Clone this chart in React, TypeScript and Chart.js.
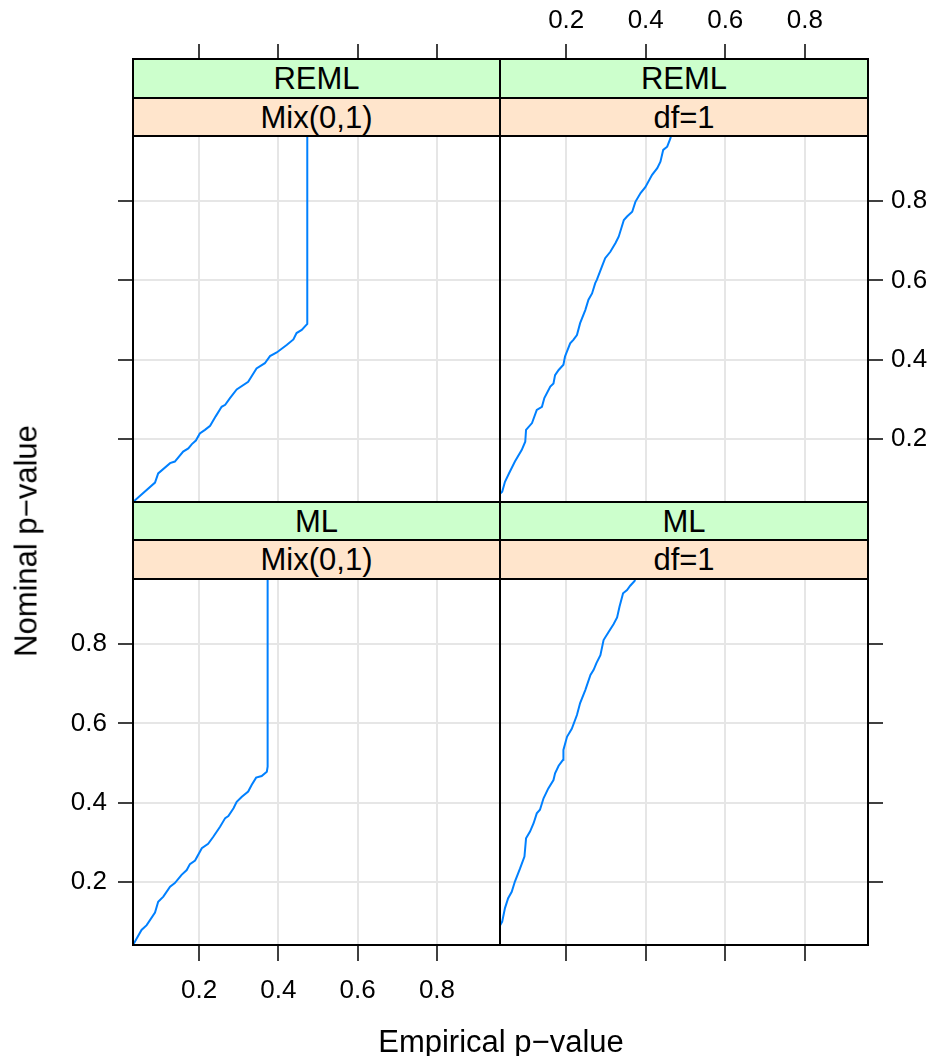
import React, { useEffect, useRef } from "react";
import { Chart, registerables } from "chart.js";

Chart.register(...registerables);

// ---------------- data ----------------
const tickValues = [0.2, 0.4, 0.6, 0.8];
const xRange = [0.0335, 0.959];
const yRange = [0.041, 0.964];

// REML, Mix(0,1)
const remlMixEmpirical = [0.0335, 0.089, 0.097, 0.127, 0.139, 0.16, 0.173, 0.182, 0.192, 0.202, 0.215, 0.228, 0.242, 0.257, 0.266, 0.278, 0.295, 0.324, 0.345, 0.366, 0.379, 0.396, 0.421, 0.438, 0.446, 0.459, 0.473, 0.473];
const remlMixNominal = [0.041, 0.09, 0.113, 0.139, 0.143, 0.168, 0.176, 0.187, 0.196, 0.214, 0.223, 0.233, 0.257, 0.281, 0.286, 0.303, 0.325, 0.344, 0.378, 0.391, 0.409, 0.418, 0.437, 0.451, 0.467, 0.475, 0.49, 1.0];

// REML, df=1
const remlDf1Empirical = [0.0335, 0.039, 0.046, 0.056, 0.071, 0.088, 0.097, 0.099, 0.114, 0.126, 0.139, 0.145, 0.16, 0.168, 0.172, 0.181, 0.193, 0.197, 0.21, 0.218, 0.227, 0.235, 0.248, 0.256, 0.265, 0.273, 0.277, 0.29, 0.298, 0.311, 0.324, 0.332, 0.345, 0.353, 0.366, 0.374, 0.387, 0.399, 0.416, 0.429, 0.437, 0.444, 0.454, 0.462, 0.467];
const remlDf1Nominal = [0.062, 0.067, 0.092, 0.113, 0.143, 0.172, 0.193, 0.223, 0.24, 0.273, 0.281, 0.303, 0.332, 0.34, 0.361, 0.374, 0.387, 0.408, 0.441, 0.45, 0.462, 0.492, 0.525, 0.551, 0.567, 0.593, 0.601, 0.635, 0.656, 0.672, 0.694, 0.71, 0.752, 0.761, 0.773, 0.798, 0.82, 0.835, 0.866, 0.883, 0.899, 0.929, 0.937, 0.958, 0.979];

// ML, Mix(0,1)
const mlMixEmpirical = [0.0335, 0.055, 0.068, 0.089, 0.097, 0.11, 0.127, 0.139, 0.156, 0.169, 0.177, 0.19, 0.207, 0.223, 0.236, 0.253, 0.266, 0.274, 0.287, 0.295, 0.308, 0.324, 0.333, 0.344, 0.358, 0.371, 0.373, 0.373];
const mlMixNominal = [0.041, 0.079, 0.091, 0.123, 0.15, 0.163, 0.188, 0.197, 0.218, 0.23, 0.245, 0.254, 0.285, 0.296, 0.314, 0.339, 0.361, 0.366, 0.386, 0.402, 0.415, 0.428, 0.445, 0.463, 0.467, 0.478, 0.491, 1.0];

// ML, df=1
const mlDf1Empirical = [0.0335, 0.039, 0.046, 0.054, 0.063, 0.071, 0.084, 0.095, 0.099, 0.109, 0.118, 0.126, 0.134, 0.143, 0.155, 0.168, 0.172, 0.181, 0.192, 0.193, 0.202, 0.214, 0.227, 0.235, 0.248, 0.261, 0.269, 0.276, 0.286, 0.294, 0.307, 0.319, 0.328, 0.334, 0.343, 0.353, 0.361, 0.372, 0.379];
const mlDf1Nominal = [0.09, 0.1, 0.134, 0.159, 0.175, 0.201, 0.234, 0.264, 0.31, 0.327, 0.348, 0.373, 0.382, 0.411, 0.436, 0.457, 0.474, 0.493, 0.508, 0.533, 0.566, 0.586, 0.621, 0.651, 0.684, 0.722, 0.735, 0.752, 0.772, 0.81, 0.831, 0.85, 0.867, 0.894, 0.928, 0.936, 0.947, 0.959, 0.982];

const outerStrips = ["REML", "REML", "ML", "ML"];
const innerStrips = ["Mix(0,1)", "df=1", "Mix(0,1)", "df=1"];
const xAxisTitle = "Empirical p\u2212value";
const yAxisTitle = "Nominal p\u2212value";

// ---------------- layout ----------------
const PAGE_W = 939;
const PAGE_H = 1056;
const FONT = "'Liberation Sans', Arial, Helvetica, sans-serif";
const LINE_COLOR = "#0080ff";
const GRID_COLOR = "#e6e6e6";
const TICK_FONT = 26;
const TEXT_FONT = 31;

const COLS = [
  { l: 133, r: 500 },
  { l: 500, r: 868 },
];
const ROWS = [
  { t: 136, b: 502, green: [59, 98], orange: [98, 136] },
  { t: 579, b: 945, green: [502, 540], orange: [540, 579] },
];

type Spec = {
  row: number;
  col: number;
  xs: number[];
  ys: number[];
  xPos: "top" | "bottom";
  yPos: "left" | "right";
  xLabels: boolean;
  yLabels: boolean;
};

const specs: Spec[] = [
  { row: 0, col: 0, xs: remlMixEmpirical, ys: remlMixNominal, xPos: "top", yPos: "left", xLabels: false, yLabels: false },
  { row: 0, col: 1, xs: remlDf1Empirical, ys: remlDf1Nominal, xPos: "top", yPos: "right", xLabels: true, yLabels: true },
  { row: 1, col: 0, xs: mlMixEmpirical, ys: mlMixNominal, xPos: "bottom", yPos: "left", xLabels: true, yLabels: true },
  { row: 1, col: 1, xs: mlDf1Empirical, ys: mlDf1Nominal, xPos: "bottom", yPos: "right", xLabels: false, yLabels: false },
];

const panelBorder = {
  id: "panelBorder",
  afterDraw(chart: any) {
    const { ctx, chartArea: a } = chart;
    ctx.save();
    ctx.strokeStyle = "#000";
    ctx.lineWidth = 2;
    ctx.strokeRect(a.left, a.top, a.right - a.left, a.bottom - a.top);
    ctx.restore();
  },
};

function axisOptions(
  axis: "x" | "y",
  position: string,
  range: number[],
  showLabels: boolean,
  tickLength: number,
  pad: number,
  size: number
) {
  return {
    type: "linear",
    position,
    min: range[0],
    max: range[1],
    afterBuildTicks: (s: any) => {
      s.ticks = tickValues.map((v) => ({ value: v }));
    },
    afterFit: (s: any) => {
      if (axis === "x") s.height = size;
      else s.width = size;
      s.paddingLeft = 0;
      s.paddingRight = 0;
      s.paddingTop = 0;
      s.paddingBottom = 0;
    },
    grid: {
      color: GRID_COLOR,
      lineWidth: 2,
      drawOnChartArea: true,
      drawTicks: true,
      tickLength,
      tickColor: "#000",
      tickWidth: 1.5,
    },
    border: { display: false },
    ticks: {
      display: showLabels,
      padding: pad,
      autoSkip: false,
      maxRotation: 0,
      minRotation: 0,
      color: "#000",
      font: { family: FONT, size: TICK_FONT },
      callback: (v: any) => Number(v).toFixed(1),
    },
  };
}

function buildConfig(spec: Spec): any {
  const c = COLS[spec.col];
  const r = ROWS[spec.row];
  const xSize = spec.xPos === "top" ? r.t : PAGE_H - r.b;
  const ySize = spec.yPos === "left" ? c.l : PAGE_W - c.r;
  const padding = {
    left: spec.yPos === "left" ? 0 : c.l,
    right: spec.yPos === "right" ? 0 : PAGE_W - c.r,
    top: spec.xPos === "top" ? 0 : r.t,
    bottom: spec.xPos === "bottom" ? 0 : PAGE_H - r.b,
  };
  const xTickLen = spec.xPos === "top" ? r.t - 44 : 16;
  const xPad = spec.xPos === "top" ? 8 : 14;
  const yPad = spec.yPos === "left" ? 11 : 8;
  return {
    type: "line",
    data: {
      datasets: [
        {
          data: spec.xs.map((x, i) => ({ x, y: spec.ys[i] })),
          borderColor: LINE_COLOR,
          borderWidth: 2,
          pointRadius: 0,
          pointHoverRadius: 0,
          fill: false,
          tension: 0,
        },
      ],
    },
    options: {
      animation: false,
      responsive: false,
      devicePixelRatio: 1,
      events: [],
      layout: { padding },
      plugins: {
        legend: { display: false },
        tooltip: { enabled: false },
        title: { display: false },
      },
      scales: {
        x: axisOptions("x", spec.xPos, xRange, spec.xLabels, xTickLen, xPad, xSize),
        y: axisOptions("y", spec.yPos, yRange, spec.yLabels, 15, yPad, ySize),
      },
    },
    plugins: [panelBorder],
  };
}

function PanelChart({ spec }: { spec: Spec }) {
  const ref = useRef<HTMLCanvasElement>(null);
  useEffect(() => {
    if (!ref.current) return;
    const chart = new Chart(ref.current, buildConfig(spec));
    return () => chart.destroy();
  }, [spec]);
  return (
    <canvas
      ref={ref}
      width={PAGE_W}
      height={PAGE_H}
      style={{ position: "absolute", left: 0, top: 0, width: PAGE_W, height: PAGE_H }}
    />
  );
}

function Strip({ x0, x1, y0, y1, bg, text }: { x0: number; x1: number; y0: number; y1: number; bg: string; text: string }) {
  return (
    <div
      style={{
        position: "absolute",
        left: x0 - 1,
        top: y0 - 1,
        width: x1 - x0 + 2,
        height: y1 - y0 + 2,
        boxSizing: "border-box",
        border: "2px solid #000",
        background: bg,
        display: "flex",
        alignItems: "center",
        justifyContent: "center",
        fontSize: TEXT_FONT,
        lineHeight: 1,
        color: "#000",
        whiteSpace: "nowrap",
      }}
    >
      {text}
    </div>
  );
}

export default function App() {
  return (
    <div
      style={{
        position: "absolute",
        left: 0,
        top: 0,
        width: PAGE_W,
        height: PAGE_H,
        background: "#fff",
        overflow: "hidden",
        fontFamily: FONT,
      }}
    >
      {specs.map((s, i) => (
        <PanelChart key={i} spec={s} />
      ))}
      {specs.map((s, i) => {
        const c = COLS[s.col];
        const r = ROWS[s.row];
        return (
          <React.Fragment key={"s" + i}>
            <Strip x0={c.l} x1={c.r} y0={r.green[0]} y1={r.green[1]} bg="#ccffcc" text={outerStrips[i]} />
            <Strip x0={c.l} x1={c.r} y0={r.orange[0]} y1={r.orange[1]} bg="#ffe5cc" text={innerStrips[i]} />
          </React.Fragment>
        );
      })}
      <div
        style={{
          position: "absolute",
          left: 501,
          top: 1040.5,
          transform: "translate(-50%, -50%)",
          whiteSpace: "nowrap",
          fontSize: TEXT_FONT,
          lineHeight: 1,
          color: "#000",
        }}
      >
        {xAxisTitle}
      </div>
      <div
        style={{
          position: "absolute",
          left: 26,
          top: 540.5,
          transform: "translate(-50%, -50%) rotate(-90deg)",
          whiteSpace: "nowrap",
          fontSize: TEXT_FONT,
          lineHeight: 1,
          color: "#000",
        }}
      >
        {yAxisTitle}
      </div>
    </div>
  );
}
